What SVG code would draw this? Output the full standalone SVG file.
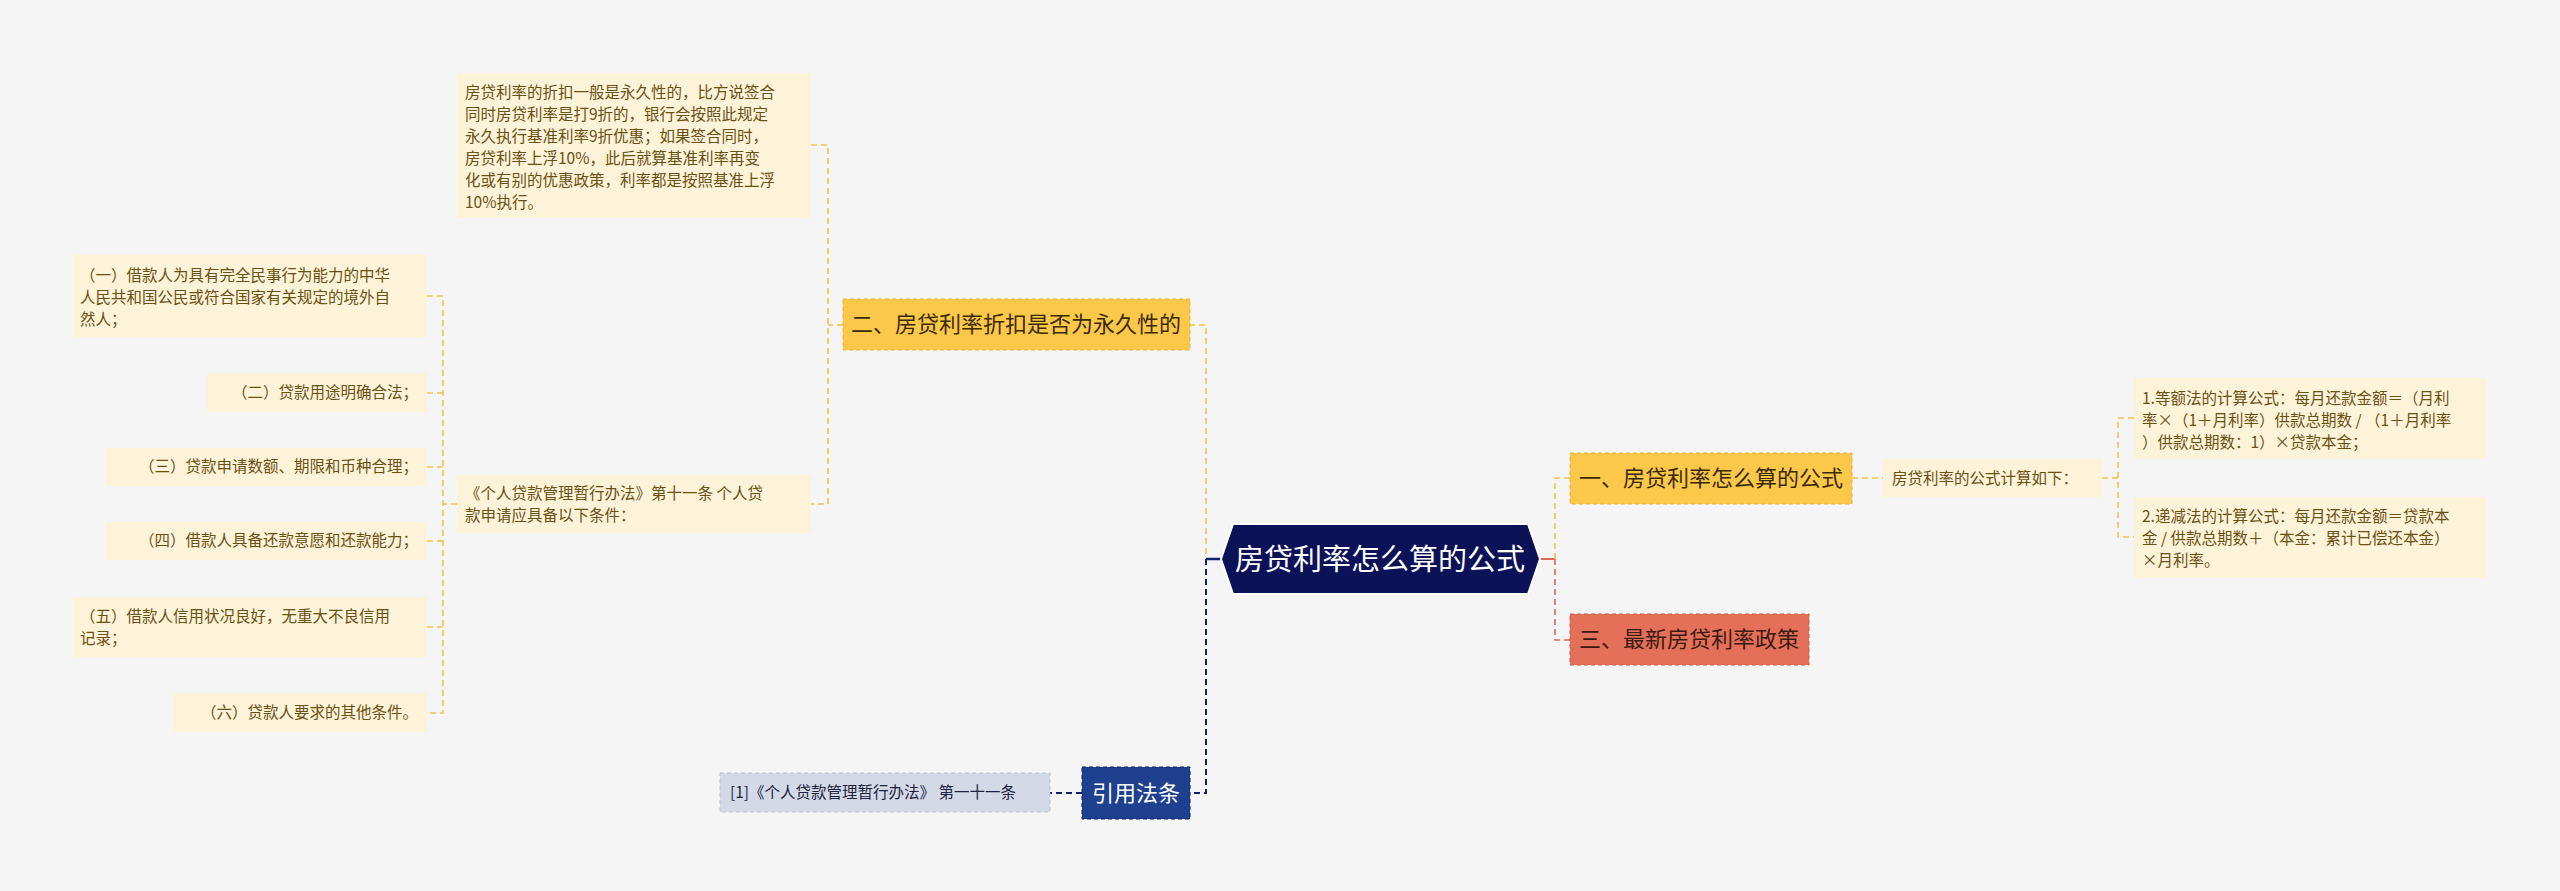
<svg xmlns="http://www.w3.org/2000/svg" width="2560" height="891" viewBox="0 0 2560 891">
<style>
text{font-family:"Noto Sans CJK SC","Liberation Sans",sans-serif}
.leaf{fill:#fdf3d9}
.lt{font-size:15.5px;fill:#6b5012}
.y{fill:none;stroke:#f2c14e;stroke-width:1.6;stroke-dasharray:6 4}
.n{fill:none;stroke:#14206a;stroke-width:2;stroke-dasharray:6 4}
.r{fill:none;stroke:#dd6a55;stroke-width:1.6;stroke-dasharray:6 4}
</style>
<rect width="2560" height="891" fill="#f5f5f5"/>
<g id="connectors">
<path class="y" d="M1221 559H1206V325H1190"/>
<path class="n" d="M1206 559V793H1190"/>
<path d="M1221 559H1206" stroke="#14206a" stroke-width="2.5"/>
<path d="M1540 559H1555" stroke="#dd6a55" stroke-width="2"/>
<path class="y" d="M1555 559V478H1570"/>
<path class="r" d="M1555 559V640H1570"/>
<path class="y" d="M1852 478H1883"/>
<path class="y" d="M2102 478H2118M2134 418H2118V537H2134"/>
<path class="y" d="M843 325H828M811 145H828V504H811"/>
<path class="y" d="M457 504H443M427 296H443V713H427M427 393H443M427 467H443M427 541H443M427 627H443"/>
<path class="n" d="M1082 793H1050"/>
</g>
<g id="root">
<polygon points="1233,524 1528,524 1540,559 1528,594 1233,594 1221,559" fill="#0c1257" stroke="#fff" stroke-width="2"/>
<text x="1380" y="570" font-size="29" fill="#fff" text-anchor="middle">房贷利率怎么算的公式</text>
</g>
<g id="n1">
<rect x="1570" y="453" width="282" height="51" fill="#fcc84a" stroke="#e8b23c" stroke-dasharray="4 3"/>
<text x="1711" y="486" font-size="22" fill="#3b2a06" text-anchor="middle">一、房贷利率怎么算的公式</text>
</g>
<g id="n1a">
<rect class="leaf" x="1883" y="459" width="219" height="38"/>
<text class="lt" x="1892" y="484">房贷利率的公式计算如下：</text>
</g>
<g id="f1">
<rect class="leaf" x="2134" y="378" width="352" height="81"/>
<text class="lt" x="2142" y="404">1.等额法的计算公式：每月还款金额＝（月利</text>
<text class="lt" x="2142" y="426">率×（1＋月利率）供款总期数 / （1＋月利率</text>
<text class="lt" x="2142" y="448">）供款总期数：1）×贷款本金；</text>
</g>
<g id="f2">
<rect class="leaf" x="2134" y="497" width="352" height="81"/>
<text class="lt" x="2142" y="522">2.递减法的计算公式：每月还款金额＝贷款本</text>
<text class="lt" x="2142" y="544">金 / 供款总期数＋（本金：累计已偿还本金）</text>
<text class="lt" x="2142" y="566">×月利率。</text>
</g>
<g id="n3">
<rect x="1570" y="614" width="239" height="51" fill="#e5705a" stroke="#c85a47" stroke-dasharray="4 3"/>
<text x="1689" y="647" font-size="22" fill="#3b1a10" text-anchor="middle">三、最新房贷利率政策</text>
</g>
<g id="n2">
<rect x="843" y="299" width="347" height="51" fill="#fcc84a" stroke="#e8b23c" stroke-dasharray="4 3"/>
<text x="1016" y="332" font-size="22" fill="#3b2a06" text-anchor="middle">二、房贷利率折扣是否为永久性的</text>
</g>
<g id="n2a">
<rect class="leaf" x="457" y="73" width="354" height="145"/>
<text class="lt" x="465" y="98">房贷利率的折扣一般是永久性的，比方说签合</text>
<text class="lt" x="465" y="120">同时房贷利率是打9折的，银行会按照此规定</text>
<text class="lt" x="465" y="142">永久执行基准利率9折优惠；如果签合同时，</text>
<text class="lt" x="465" y="164">房贷利率上浮10%，此后就算基准利率再变</text>
<text class="lt" x="465" y="186">化或有别的优惠政策，利率都是按照基准上浮</text>
<text class="lt" x="465" y="208">10%执行。</text>
</g>
<g id="n2b">
<rect class="leaf" x="457" y="475" width="354" height="58"/>
<text class="lt" x="465" y="499">《个人贷款管理暂行办法》第十一条 个人贷</text>
<text class="lt" x="465" y="521">款申请应具备以下条件：</text>
</g>
<g id="i1">
<rect class="leaf" x="73" y="255" width="354" height="82"/>
<text class="lt" x="80" y="281">（一）借款人为具有完全民事行为能力的中华</text>
<text class="lt" x="80" y="303">人民共和国公民或符合国家有关规定的境外自</text>
<text class="lt" x="80" y="325">然人；</text>
</g>
<g id="i2">
<rect class="leaf" x="207" y="373" width="220" height="39"/>
<text class="lt" x="418" y="398" text-anchor="end">（二）贷款用途明确合法；</text>
</g>
<g id="i3">
<rect class="leaf" x="106" y="448" width="321" height="38"/>
<text class="lt" x="418" y="472" text-anchor="end">（三）贷款申请数额、期限和币种合理；</text>
</g>
<g id="i4">
<rect class="leaf" x="106" y="522" width="321" height="38"/>
<text class="lt" x="418" y="546" text-anchor="end">（四）借款人具备还款意愿和还款能力；</text>
</g>
<g id="i5">
<rect class="leaf" x="73" y="597" width="354" height="60"/>
<text class="lt" x="80" y="622">（五）借款人信用状况良好，无重大不良信用</text>
<text class="lt" x="80" y="644">记录；</text>
</g>
<g id="i6">
<rect class="leaf" x="174" y="693" width="253" height="39"/>
<text class="lt" x="418" y="718" text-anchor="end">（六）贷款人要求的其他条件。</text>
</g>
<g id="cite">
<rect x="1082" y="767" width="108" height="52" fill="#1f3f8f" stroke="#14206a" stroke-dasharray="4 3"/>
<text x="1136" y="801" font-size="22" fill="#fff" text-anchor="middle">引用法条</text>
</g>
<g id="ref">
<rect x="720" y="773" width="330" height="39" fill="#d4d9e8" stroke="#bcc3d8" stroke-dasharray="4 3"/>
<text x="730" y="798" font-size="15.5" fill="#1c2340">[1]《个人贷款管理暂行办法》 第一十一条</text>
</g>
</svg>
